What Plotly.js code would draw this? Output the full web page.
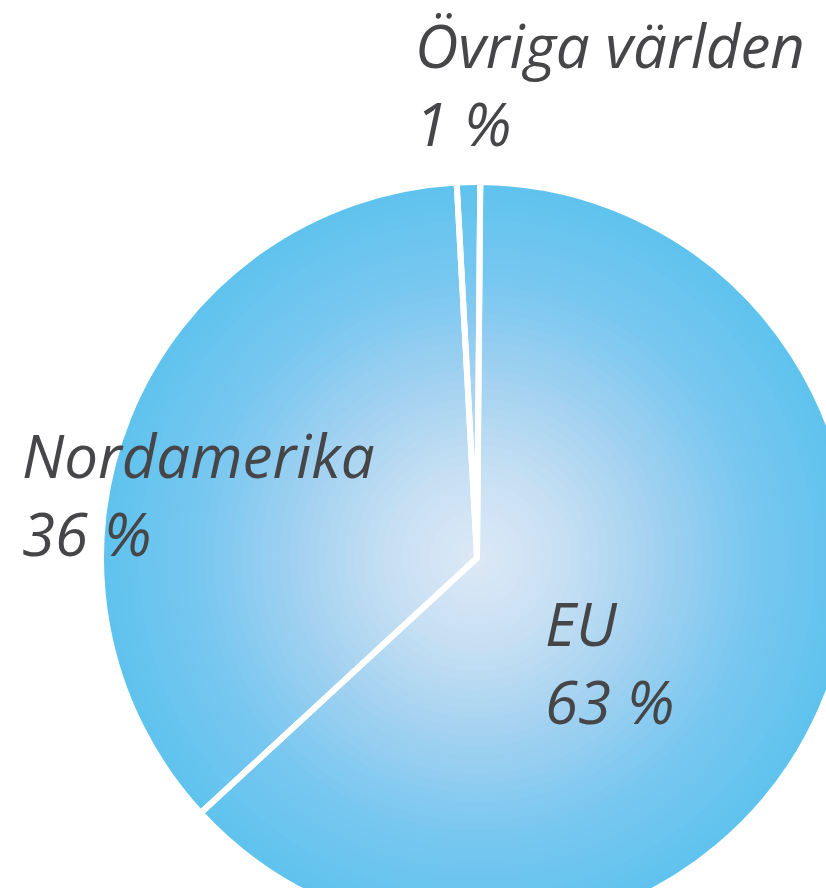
<!DOCTYPE html>
<html>
<head>
<meta charset="utf-8">
<script src="https://cdn.plot.ly/plotly-3.0.1.min.js"></script>
<style>
  html, body { margin: 0; padding: 0; background: #ffffff; overflow: hidden; width: 826px; height: 888px; }
  #chart { position: absolute; left: 0; top: 0; width: 954px; height: 1116px; }
</style>
</head>
<body>
<div id="chart"></div>
<script>
// ---- data ----
const regions = ['EU', 'Nordamerika', 'Övriga världen'];
const shares = [63, 36, 1];
const unit = ' %';

// ---- styling / geometry ----
const W = 954, H = 1116;           // plot canvas (larger than window; pie is cropped like the reference)
const cx = 477, cy = 558, R = 376; // pie centre and radius in pixels
const labelPx = [ {x: 543, y: 662}, {x: 20, y: 494}, {x: 413, y: 84} ];
const stops = [
  [0.00, [222, 233, 246]],
  [0.25, [198, 223, 243]],
  [0.50, [160, 209, 240]],
  [0.75, [120, 199, 240]],
  [1.00, [96, 195, 238]]
];
function colorAt(t) {
  for (let i = 1; i < stops.length; i++) {
    if (t <= stops[i][0]) {
      const a = stops[i-1], b = stops[i];
      const f = (t - a[0]) / (b[0] - a[0]);
      const c = a[1].map((v, k) => Math.round(v + (b[1][k] - v) * f));
      return 'rgb(' + c.join(',') + ')';
    }
  }
  const l = stops[stops.length-1][1];
  return 'rgb(' + l.join(',') + ')';
}
function domainFor(r) {
  return {
    x: [(cx - r) / W, (cx + r) / W],
    y: [1 - (cy + r) / H, 1 - (cy - r) / H]
  };
}
function pieLayer(r, colors, line, hover) {
  return {
    type: 'pie',
    labels: regions,
    values: shares,
    sort: false,
    direction: 'clockwise',
    rotation: 0.5,
    textinfo: 'none',
    hoverinfo: hover || 'skip',
    showlegend: false,
    domain: domainFor(r),
    marker: { colors: colors, line: line }
  };
}

const traces = [];
// radial shading layers
const N = 40;
for (let i = 0; i < N; i++) {
  const t = 1 - i / N;
  const col = colorAt(t);
  traces.push(pieLayer(R * t, regions.map(() => col), { width: 0 }));
}
// separator overlay: transparent slices with white borders
traces.push(pieLayer(R, regions.map(() => 'rgba(0,0,0,0)'), { color: '#ffffff', width: 6 }, 'label+percent'));

const annotations = regions.map((name, i) => ({
  xref: 'paper', yref: 'paper',
  x: labelPx[i].x / W, y: 1 - labelPx[i].y / H,
  xanchor: 'left', yanchor: 'middle', align: 'left',
  showarrow: false,
  text: name + '<br>' + shares[i] + unit,
  font: { family: '"Open Sans", "DejaVu Sans", sans-serif', size: 60, color: '#464649', style: 'italic' }
}));

const layout = {
  width: W, height: H,
  margin: { l: 0, r: 0, t: 0, b: 0, pad: 0 },
  paper_bgcolor: '#ffffff',
  plot_bgcolor: '#ffffff',
  showlegend: false,
  annotations: annotations
};

Plotly.newPlot('chart', traces, layout, { displayModeBar: false, staticPlot: true });
</script>
</body>
</html>
